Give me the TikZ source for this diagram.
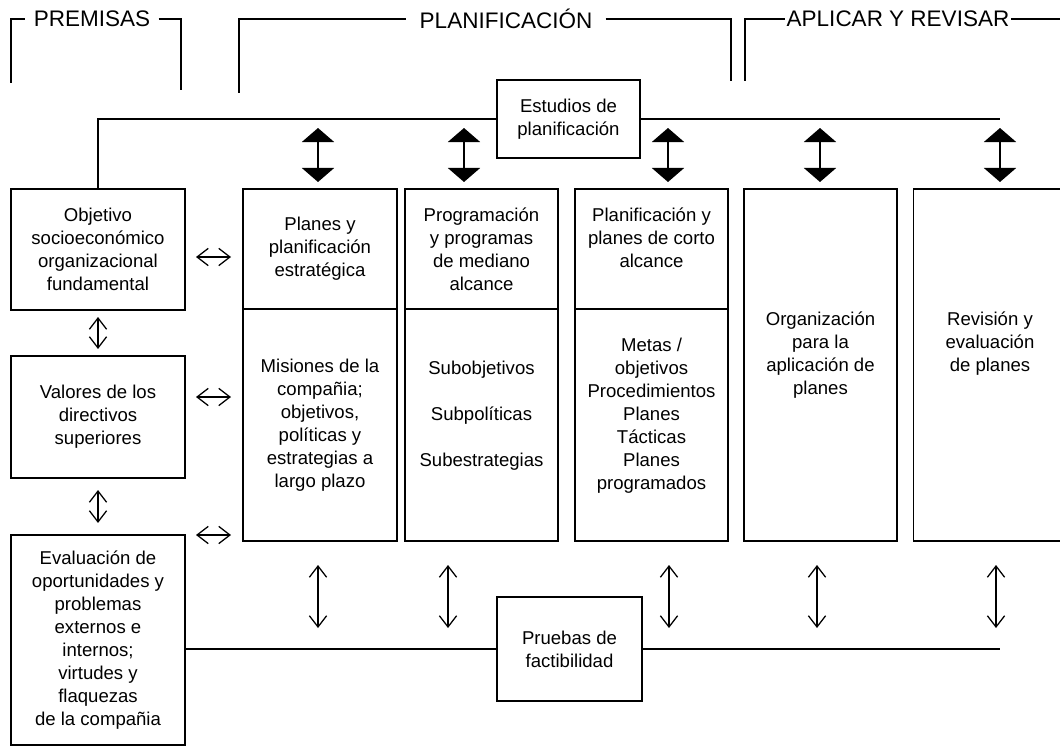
\documentclass[tikz,border=0pt]{standalone}
\usepackage{fontspec}
\setmainfont{Liberation Sans}
\usepackage{tikz}
\usetikzlibrary{arrows.meta,positioning}

\begin{document}
\begin{tikzpicture}[x=0.025cm,y=-0.025cm,line width=1.1pt]
\tikzstyle{bx}=[draw, align=center, inner sep=2pt, outer sep=0pt, font=\fontsize{13.2pt}{16.3pt}\selectfont]
\tikzstyle{hd}=[font=\fontsize{16pt}{19pt}\selectfont, inner sep=5.5pt]
\tikzstyle{bigarr}=[line width=1.3pt, {Triangle[width=0.8cm,length=0.35cm]}-{Triangle[width=0.8cm,length=0.35cm]}]
\tikzstyle{arr}=[line width=0.9pt, {Straight Barb[width=0.43cm,length=0.28cm]}-{Straight Barb[width=0.43cm,length=0.28cm]}]
\useasboundingbox (0,0) rectangle (1060,749);
\clip (0,0) rectangle (1060,749);
% header
\node[hd] (hpre) at (92,19) {PREMISAS};
\node[hd, inner xsep=9pt] (hpla) at (506,19) {PLANIFICACIÓN};
\node[hd, inner xsep=1pt] (hapl) at (898,19) {APLICAR Y REVISAR};
\coordinate (pre1) at (11,83); \coordinate (pre2) at (181,90);
\coordinate (pla1) at (239,93); \coordinate (pla2) at (731,81);
\coordinate (apl1) at (745,81); \coordinate (apl2) at (1070,19);
\draw (pre1) |- (hpre.west); \draw (hpre.east) -| (pre2);
\draw (pla1) |- (hpla.west); \draw (hpla.east) -| (pla2);
\draw (apl1) |- (hapl.west); \draw (hapl.east) -- (apl2);
% left column
\node[bx, minimum width=4.35cm, minimum height=3.025cm] (obj) at (98,249.5) {Objetivo\\socioeconómico\\organizacional\\fundamental};
\node[bx, minimum width=4.35cm, minimum height=3.05cm] (val) at (98,417) {Valores de los\\directivos\\superiores};
\node[bx, minimum width=4.35cm, minimum height=5.25cm] (eva) at (98,640) {Evaluación de\\oportunidades y\\problemas\\externos e\\internos;\\virtudes y\\flaquezas\\de la compañia};
% planning columns
\node[bx, minimum width=3.85cm, minimum height=3cm] (pla) at (320,249) {Planes y\\planificación\\estratégica};
\node[bx, minimum width=3.85cm, minimum height=5.8cm, below=0pt of pla] (mis) {Misiones de la\\compañia;\\objetivos,\\políticas y\\estrategias a\\largo plazo};
\node[bx, minimum width=3.825cm, minimum height=3cm] (pro) at (481.5,249) {Programación\\y programas\\de mediano\\alcance};
\node[bx, minimum width=3.825cm, minimum height=5.8cm, below=0pt of pro] (sub) {Subobjetivos\\~\\Subpolíticas\\~\\Subestrategias\\~};
\node[bx, minimum width=3.825cm, minimum height=3cm] (cor) at (651.5,249) {Planificación y\\planes de corto\\alcance\\~};
\node[bx, minimum width=3.825cm, minimum height=5.8cm, below=0pt of cor] (met) {Metas /\\objetivos\\Procedimientos\\Planes\\Tácticas\\Planes\\programados\\~};
\node[bx, minimum width=3.825cm, minimum height=8.8cm] (org) at (820.5,365) {Organización\\para la\\aplicación de\\planes\\~};
\node[bx, minimum width=3.825cm, minimum height=8.8cm] (rev) at (990,365) {Revisión y\\evaluación\\de planes\\~\\~};
% studies and tests
\node[bx, minimum width=3.575cm, minimum height=1.95cm] (est) at (568.5,119) {Estudios de\\planificación};
\node[bx, minimum width=3.625cm, minimum height=2.6cm] (pru) at (569.5,649) {Pruebas de\\factibilidad};
\coordinate (estr) at (1000,119);
\coordinate (prur) at (1000,649);
\draw (obj.north) |- (est.west);
\draw (est.east) -- (estr);
\draw (eva.east |- pru.west) -- (pru.west);
\draw (pru.east) -- (prur);
% arrows
\draw[arr] ([yshift=-0.175cm]obj.south) -- ([yshift=0.175cm]val.north);
\draw[arr] ([yshift=-0.3cm]val.south) -- ([yshift=0.3cm]eva.north);
\foreach \y [count=\i] in {257,397,535}{
\coordinate (ha\i) at (196,\y); \coordinate (hb\i) at (231,\y);
\draw[arr] (ha\i) -- (hb\i);
}
\foreach \x [count=\i] in {318,464,668,820,1000}{
\coordinate (ta\i) at (\x,128); \coordinate (tb\i) at (\x,182);
\draw[bigarr] (ta\i) -- (tb\i);
}
\foreach \x [count=\i] in {318,448,669,817,996}{
\coordinate (ba\i) at (\x,565); \coordinate (bb\i) at (\x,628);
\draw[arr] (ba\i) -- (bb\i);
}
\end{tikzpicture}
\end{document}
